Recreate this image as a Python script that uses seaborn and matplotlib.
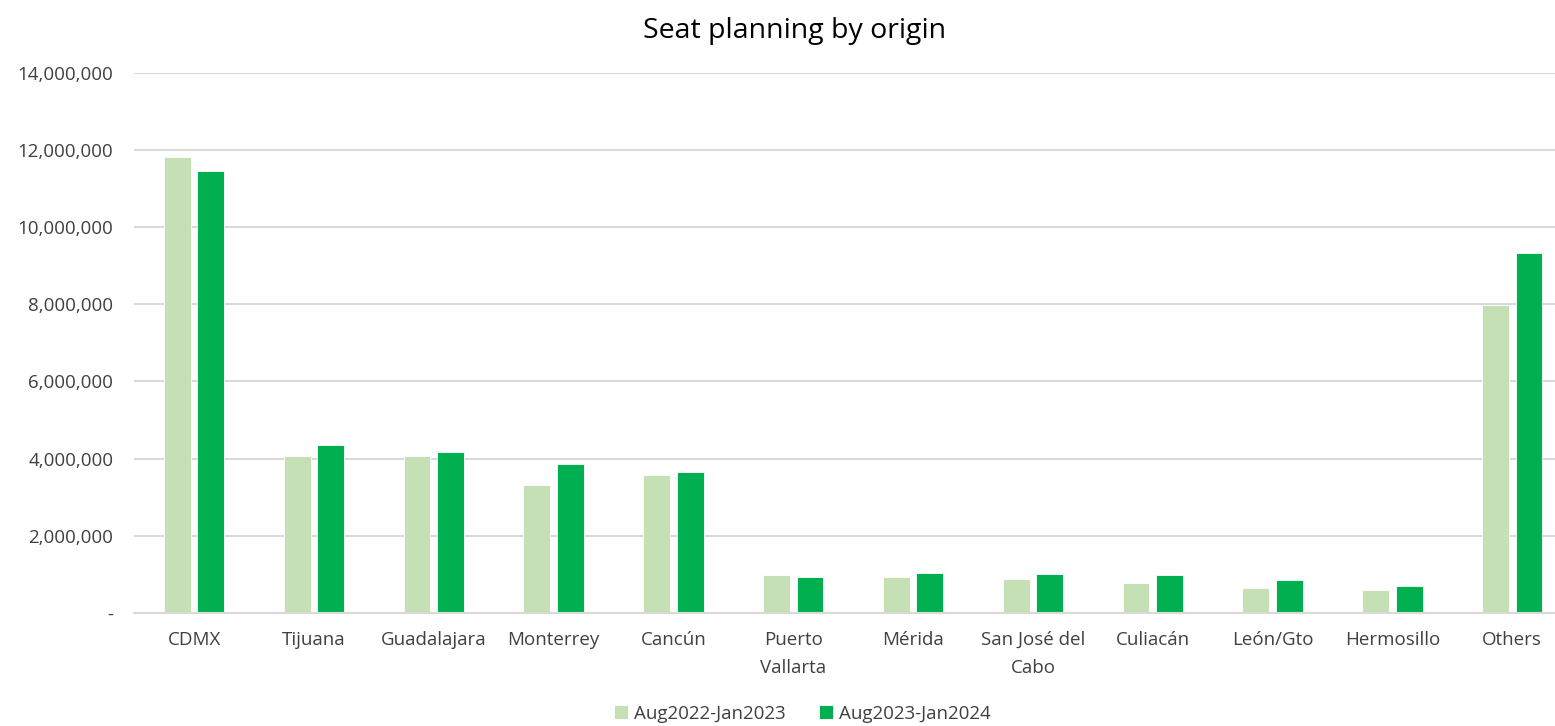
import pandas as pd
import matplotlib
matplotlib.use('Agg')
import matplotlib.pyplot as plt
import matplotlib.ticker as mticker
import seaborn as sns

# values
origins = ["CDMX", "Tijuana", "Guadalajara", "Monterrey", "Cancún", "Puerto\nVallarta",
           "Mérida", "San José del\nCabo", "Culiacán", "León/Gto", "Hermosillo", "Others"]
seats_2022 = [11810000, 4070000, 4070000, 3320000, 3580000, 970000,
              940000, 880000, 770000, 630000, 580000, 7980000]
seats_2023 = [11450000, 4360000, 4160000, 3860000, 3650000, 940000,
              1030000, 1000000, 970000, 840000, 700000, 9330000]
periods = ["Aug2022-Jan2023", "Aug2023-Jan2024"]
colors = ["#C5E0B4", "#00B050"]

df = pd.DataFrame({
    "origin": origins * 2,
    "period": [periods[0]] * len(origins) + [periods[1]] * len(origins),
    "seats": seats_2022 + seats_2023,
})

sns.set_style("white")
plt.rcParams['font.family'] = ['Open Sans', 'DejaVu Sans']

fig = plt.figure(figsize=(15.55, 7.26), dpi=100)
# right edge of the plot runs past the image border, like the reference
ax = fig.add_axes([0.0863, 0.156, 0.9247, 0.7435])

sns.barplot(data=df, x="origin", y="seats", hue="period", palette=colors,
            width=0.56, gap=0.2, saturation=1, ax=ax, errorbar=None,
            edgecolor="white", linewidth=0.6)

ax.set_ylim(0, 14000000)
ax.set_xlim(-0.5, len(origins) - 0.5)
ax.yaxis.set_major_locator(mticker.MultipleLocator(2000000))
ax.yaxis.set_major_formatter(mticker.FuncFormatter(lambda v, p: "-" if v == 0 else f"{v:,.0f}"))
ax.grid(axis="y", color="#D9D9D9", linewidth=1.5)
ax.set_axisbelow(True)
for s in ["top", "right", "left"]:
    ax.spines[s].set_visible(False)
ax.spines["bottom"].set_color("#D9D9D9")
ax.spines["bottom"].set_linewidth(1.5)
ax.tick_params(axis="both", length=0, labelsize=13.5, colors="#404040")
ax.tick_params(axis="x", pad=13)
ax.tick_params(axis="y", pad=15)
for lbl in ax.get_xticklabels():
    lbl.set_linespacing(1.75)
ax.set_xlabel("")
ax.set_ylabel("")

ax.set_title("Seat planning by origin", fontsize=20.5, color="#000000", pad=25)
ax.title.set_position((0.459, 1.0))

ax.legend_.remove()
handles, labels = ax.get_legend_handles_labels()
fig.legend(handles, labels, loc="center", bbox_to_anchor=(0.516, 0.017), ncol=2,
           frameon=False, fontsize=13.5, handlelength=0.75, handleheight=0.75,
           handletextpad=0.3, columnspacing=1.8, labelcolor="#404040")

fig.savefig("out.png", dpi=100)
